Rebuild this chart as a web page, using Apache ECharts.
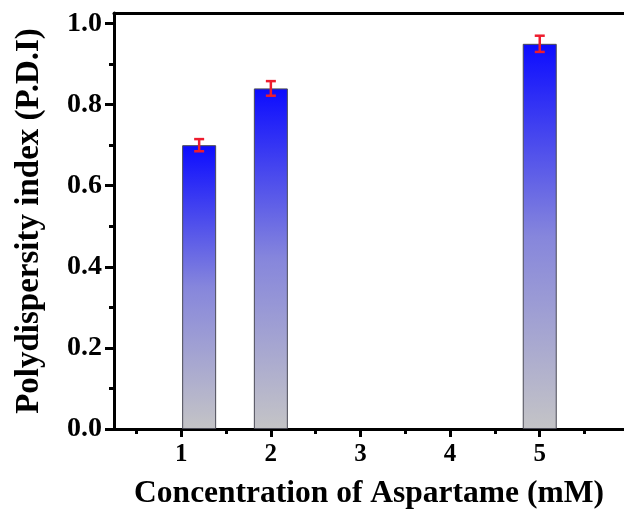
<!DOCTYPE html>
<html>
<head>
<meta charset="utf-8">
<script src="https://cdn.jsdelivr.net/npm/echarts@6/dist/echarts.min.js"></script>
<style>html,body{margin:0;padding:0;background:#fff}#c{width:624px;height:510px}</style>
</head>
<body>
<div id="c"></div>
<script>
var xPositions = [1.2, 2, 5];
var pdiValues = [0.70, 0.84, 0.95];
var pdiErrors = [0.015, 0.018, 0.02];
var xTickValues = [1, 2, 3, 4, 5];
var xMinorTicks = [0.5, 1.5, 2.5, 3.5, 4.5, 5.5];
var yTickValues = [0, 0.2, 0.4, 0.6, 0.8, 1.0];
var yMinorTicks = [0.1, 0.3, 0.5, 0.7, 0.9];
var xTitle = 'Concentration of Aspartame (mM)';
var yTitle = 'Polydispersity index (P.D.I)';

var FONT = "'Liberation Serif', 'Times New Roman', serif";
var chart = echarts.init(document.getElementById('c'), null, {renderer: 'canvas'});

var barData = xPositions.map(function (x, i) { return [x, pdiValues[i]]; });
var errData = xPositions.map(function (x, i) { return [x, pdiValues[i] - pdiErrors[i], pdiValues[i] + pdiErrors[i]]; });

var XMIN = 0.25, XMAX = 5.94, YMIN = 0, YMAX = 1.026;

chart.setOption({
  animation: false,
  backgroundColor: '#ffffff',
  grid: {left: 114, right: 0, top: 13, bottom: 81, show: false, containLabel: false, outerBoundsMode: 'none'},
  xAxis: [{
    type: 'value', min: XMIN, max: XMAX,
    name: xTitle, nameLocation: 'middle', nameGap: 49,
    nameTextStyle: {fontFamily: FONT, fontWeight: 'bold', fontSize: 31.5, color: '#000'},
    axisLine: {show: true, onZero: false, lineStyle: {color: '#000', width: 3}},
    axisTick: {show: true, inside: false, length: 8, customValues: xTickValues, lineStyle: {color: '#000', width: 3}},
    axisLabel: {show: true, customValues: xTickValues, margin: 13, fontFamily: FONT, fontWeight: 'bold', fontSize: 25, color: '#000'},
    splitLine: {show: false}
  }, {
    type: 'value', min: XMIN, max: XMAX, position: 'bottom',
    axisLine: {show: false},
    axisTick: {show: true, inside: false, length: 5, customValues: xMinorTicks, lineStyle: {color: '#000', width: 3}},
    axisLabel: {show: false},
    splitLine: {show: false}
  }, {
    type: 'value', min: XMIN, max: XMAX, position: 'top',
    axisLine: {show: true, onZero: false, lineStyle: {color: '#000', width: 3}},
    axisTick: {show: false},
    axisLabel: {show: false},
    splitLine: {show: false}
  }],
  yAxis: [{
    type: 'value', min: YMIN, max: YMAX,
    name: yTitle, nameLocation: 'middle', nameGap: 68, nameRotate: 90,
    nameTextStyle: {fontFamily: FONT, fontWeight: 'bold', fontSize: 33, color: '#000'},
    axisLine: {show: true, onZero: false, lineStyle: {color: '#000', width: 3}},
    axisTick: {show: true, inside: false, length: 9, customValues: yTickValues, lineStyle: {color: '#000', width: 3}},
    axisLabel: {show: true, customValues: yTickValues, margin: 12, fontFamily: FONT, fontWeight: 'bold', fontSize: 28, color: '#000',
      formatter: function (v) { return v.toFixed(1); }},
    splitLine: {show: false}
  }, {
    type: 'value', min: YMIN, max: YMAX, position: 'left',
    axisLine: {show: false},
    axisTick: {show: true, inside: false, length: 5, customValues: yMinorTicks, lineStyle: {color: '#000', width: 3}},
    axisLabel: {show: false},
    splitLine: {show: false}
  }],
  series: [{
    type: 'bar',
    xAxisIndex: 0, yAxisIndex: 0,
    data: barData,
    barWidth: 34,
    itemStyle: {
      color: new echarts.graphic.LinearGradient(0, 0, 0, 1, [
        {offset: 0, color: '#0c0cff'},
        {offset: 0.5, color: '#8686dc'},
        {offset: 1, color: '#c4c4c6'}
      ]),
      borderColor: '#4a4a55', borderWidth: 1
    },
    z: 2
  }, {
    type: 'custom',
    xAxisIndex: 0, yAxisIndex: 0,
    data: errData,
    z: 5,
    renderItem: function (params, api) {
      var x = api.value(0);
      var lo = api.coord([x, api.value(1)]);
      var hi = api.coord([x, api.value(2)]);
      var hw = 5;
      var st = {stroke: '#ee1c2e', lineWidth: 2.5, fill: null};
      return {type: 'group', children: [
        {type: 'line', shape: {x1: lo[0], y1: lo[1], x2: hi[0], y2: hi[1]}, style: st},
        {type: 'line', shape: {x1: lo[0] - hw, y1: lo[1], x2: lo[0] + hw, y2: lo[1]}, style: st},
        {type: 'line', shape: {x1: hi[0] - hw, y1: hi[1], x2: hi[0] + hw, y2: hi[1]}, style: st}
      ]};
    }
  }]
});
</script>
</body>
</html>
